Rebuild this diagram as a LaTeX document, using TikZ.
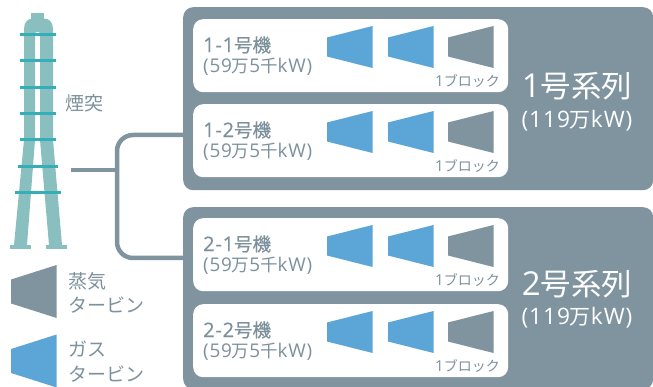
\documentclass[tikz,border=0pt]{standalone}
\usepackage{fontspec}
\setmainfont{Noto Sans CJK JP}
\newfontfamily\latin{Open Sans}[Scale=1.08, LetterSpace=4]
\newfontfamily\latinmed{Open Sans}[Scale=1.08, LetterSpace=4, FakeBold=0.6]
\newfontfamily\cjkmed{Noto Sans CJK JP}[FakeBold=0.6]
\definecolor{slate}{HTML}{7F949F}
\definecolor{turbBlue}{HTML}{5BA6D6}
\definecolor{stackTeal}{HTML}{89BFBF}
\definecolor{rungTeal}{HTML}{34AFB8}
\definecolor{labelGray}{HTML}{7D919C}
\begin{document}
\begin{tikzpicture}[x=1pt,y=-1pt,
  sysbox/.style={fill=slate, rounded corners=10pt, minimum width=470pt,
    minimum height=183pt, anchor=north west, inner sep=0pt},
  unitbox/.style={fill=white, rounded corners=10pt, minimum width=315pt,
    minimum height=73pt, anchor=north west, inner sep=0pt},
  conn/.style={draw=slate, line width=4.5pt},
  rung/.style={draw=rungTeal, line width=3pt},
  unitname/.style={anchor=west, text=labelGray, inner sep=0pt,
    font=\fontsize{18.5}{20}\selectfont\cjkmed},
  unitrate/.style={anchor=west, text=labelGray, inner sep=0pt,
    font=\fontsize{17.5}{20}\selectfont},
  blocklabel/.style={anchor=east, text=labelGray, inner sep=0pt,
    font=\fontsize{14}{16}\selectfont},
  serieslabel/.style={text=white, inner sep=0pt,
    font=\fontsize{30.5}{34}\selectfont},
  ratinglabel/.style={text=white, inner sep=0pt,
    font=\fontsize{21}{24}\selectfont},
  legendlabel/.style={anchor=west, text=labelGray, inner sep=0pt, align=left,
    font=\fontsize{19}{24.5}\selectfont},
  turb/.pic={\path[pic actions] (0,-9.5) -- (45.5,-21) -- (45.5,21) -- (0,9.5) -- cycle;}
]
\useasboundingbox (0,0) rectangle (653,387);

% two generating series
\node[sysbox] (sys1) at (183,7) {};
\node[sysbox, minimum height=182pt] (sys2) at (183,207) {};

\node[serieslabel] (sys1-name) at (577,86) {{\latin 1}号系列};
\node[ratinglabel] (sys1-rate) at (577,121) {{\latin (119}万{\latin kW)}};
\node[serieslabel] (sys2-name) at (577,284) {{\latin 2}号系列};
\node[ratinglabel] (sys2-rate) at (577,318) {{\latin (119}万{\latin kW)}};

% generating units with their turbines
\foreach \n/\t/\lab in {u11/19/1-1, u12/104/1-2, u21/218/2-1, u22/304/2-2}{
  \node[unitbox] (\n) at (193,\t) {};
  \node[unitname] (\n-name) at (203,\t+26) {{\latinmed\lab}号機};
  \node[unitrate] (\n-rate) at (203,\t+48) {{\latin (59}万{\latin 5}千{\latin kW)}};
  \pic[fill=turbBlue] at (327,\t+28) {turb};
  \pic[fill=turbBlue] at (388,\t+28) {turb};
  \pic[fill=slate] at (448,\t+28) {turb};
  \node[blocklabel] (\n-block) at (500,\t+62) {{\latin 1}ブロック};
}

% chimney
\fill[stackTeal] (31,13) rectangle (44,19);
\fill[stackTeal] (14,245) -- (24,140) -- (24,29)
  .. controls (24,22) and (28,18.5) .. (33,18.5) -- (44,18.5)
  .. controls (49,18.5) and (53,22) .. (53,29) -- (53,140) -- (62,245)
  -- (49,245) -- (40,140) -- (40,34)
  .. controls (40,31) and (35,31) .. (35,34) -- (35,140) -- (27,245) -- cycle;
\fill[stackTeal] (10,245) rectangle (31,249);
\fill[stackTeal] (46,245) rectangle (67,249);
\foreach \y in {35,61,88,114,140}{\draw[rung] (20,\y) -- (56,\y);}
\draw[rung] (18,167) -- (58,167);
\draw[rung] (15,193) -- (61,193);
\node[legendlabel] (stack-name) at (65,103) {煙突};

% flue connection from the chimney to both series
\coordinate (stub) at (71,170);
\coordinate (fork) at (117,170);
\coordinate (bus1) at (sys1.west |- 0,135);
\coordinate (bus2) at (sys2.west |- 0,258);
\draw[conn] (stub) -- (fork);
\draw[conn, rounded corners=16pt] (bus1) -| (fork) |- (bus2);

% legend
\pic[fill=slate, yscale=1.26] at (11,291.5) {turb};
\node[legendlabel] (leg-steam) at (68,293) {蒸気\\タービン};
\pic[fill=turbBlue, yscale=1.26] at (11,361) {turb};
\node[legendlabel] (leg-gas) at (68,361.5) {ガス\\タービン};
\end{tikzpicture}
\end{document}
